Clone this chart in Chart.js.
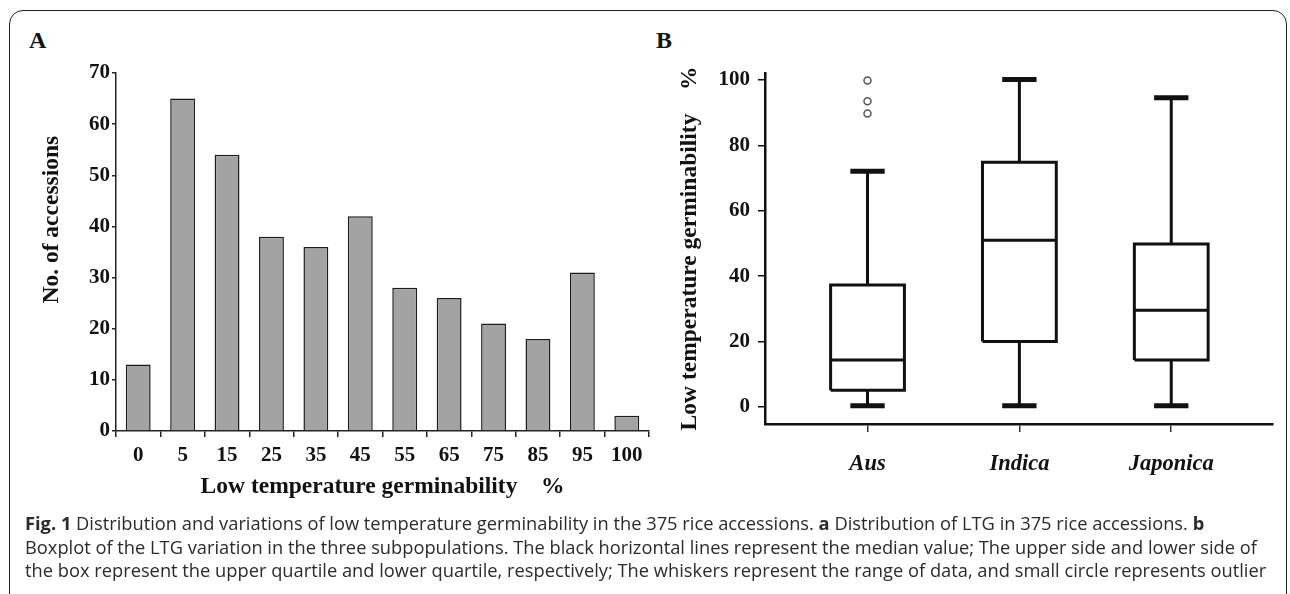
<!DOCTYPE html>
<html lang="en">
<head>
<meta charset="UTF-8">
<title>Low temperature germinability</title>
<script src="https://cdn.jsdelivr.net/npm/chart.js"></script>
<style>
    body {
        margin: 0;
        width: 1290px;
        height: 594px;
        overflow: hidden;
        background: #fff;
        position: relative;
    }
    .frame {
        position: absolute;
        left: 9px;
        top: 10px;
        width: 1278px;
        height: 640px;
        border: 1.5px solid #222;
        border-radius: 14px;
        box-sizing: border-box;
    }
    .panel-label {
        position: absolute;
        top: 27px;
        font: bold 24px 'Liberation Serif', serif;
        color: #111;
    }
    #wrapA { position: absolute; left: 0; top: 0; }
    #wrapB { position: absolute; left: 650px; top: 0; }
    .caption {
        position: absolute;
        left: 25px;
        top: 511px;
        font-family: 'Open Sans', sans-serif;
        font-size: 18.3px;
        line-height: 23.5px;
        color: #2b2b2b;
        white-space: nowrap;
    }
</style>
</head>
<body>
<div class="frame"></div>
<div class="panel-label" style="left:29px">A</div>
<div class="panel-label" style="left:656px">B</div>

<div id="wrapA"><canvas id="chartA" width="660" height="520"></canvas></div>
<div id="wrapB"><canvas id="chartB" width="640" height="520"></canvas></div>

<div class="caption">
    <div><b>Fig. 1</b> Distribution and variations of low temperature germinability in the 375 rice accessions. <b>a</b> Distribution of LTG in 375 rice accessions. <b>b</b></div>
    <div>Boxplot of the LTG variation in the three subpopulations. The black horizontal lines represent the median value; The upper side and lower side of</div>
    <div>the box represent the upper quartile and lower quartile, respectively; The whiskers represent the range of data, and small circle represents outlier</div>
</div>

<script>
    // panel A: histogram
    const ltgBins = ['0', '5', '15', '25', '35', '45', '55', '65', '75', '85', '95', '100'];
    const accessionCounts = [13, 65, 54, 38, 36, 42, 28, 26, 21, 18, 31, 3];
    const countTicks = [0, 10, 20, 30, 40, 50, 60, 70];

    // panel B: boxplot per subpopulation
    const groups = ['Aus', 'Indica', 'Japonica'];
    const whiskerLow = [0.4, 0.4, 0.4];
    const quartile1 = [5.1, 20, 14.4];
    const medians = [14.4, 51, 29.6];
    const quartile3 = [37.3, 74.8, 49.8];
    const whiskerHigh = [72.1, 100.1, 94.5];
    const outliers = [[89.7, 93.5, 99.8], [], []];
    const pctTicks = [0, 20, 40, 60, 80, 100];

    Chart.defaults.font.family = "'Liberation Serif', 'Times New Roman', serif";
    Chart.defaults.font.weight = 'bold';
    Chart.defaults.color = '#111';
    Chart.defaults.animation = false;

    const axisTitle = 'Low temperature germinability    %';

    new Chart(document.getElementById('chartA'), {
        type: 'bar',
        data: {
            labels: ltgBins,
            datasets: [{
                data: accessionCounts,
                backgroundColor: '#a3a3a3',
                borderColor: '#1c1c1c',
                borderWidth: 1.5,
                categoryPercentage: 1,
                barPercentage: 0.56
            }]
        },
        options: {
            responsive: false,
            layout: { padding: { left: 0, top: 73, right: 11, bottom: 0 } },
            plugins: { legend: { display: false }, tooltip: { enabled: false } },
            scales: {
                x: {
                    afterFit: s => { s.height = 89; },
                    grid: { drawOnChartArea: false, tickLength: 6, color: '#222', lineWidth: 1.5 },
                    border: { color: '#222', width: 1.5 },
                    ticks: { font: { size: 21 }, padding: 6, maxRotation: 0 },
                    title: { display: true, text: axisTitle, font: { size: 23.5 }, padding: { bottom: 19 } }
                },
                y: {
                    min: 0,
                    max: 70,
                    afterFit: s => { s.width = 116; },
                    afterBuildTicks: s => { s.ticks = countTicks.map(v => ({ value: v })); },
                    grid: { drawOnChartArea: false, tickLength: 4, color: '#222', lineWidth: 1.5 },
                    border: { color: '#222', width: 1.5 },
                    ticks: { font: { size: 21 }, padding: 2 },
                    // leading spaces lift the title above the axis centre, as in the figure
                    title: { display: true, text: '           No. of accessions', font: { size: 23.5 }, padding: { top: 38 } }
                }
            }
        }
    });

    // build box, median, whisker and cap lines from the arrays
    const boxHalf = 0.243;
    const capHalf = 0.113;
    const boxDatasets = [];
    const lineStyle = { showLine: true, pointRadius: 0, borderColor: '#111', fill: false, borderJoinStyle: 'miter', borderCapStyle: 'butt' };

    groups.forEach((g, i) => {
        boxDatasets.push({ ...lineStyle, borderWidth: 3, data: [
            { x: i - boxHalf, y: quartile1[i] }, { x: i + boxHalf, y: quartile1[i] },
            { x: i + boxHalf, y: quartile3[i] }, { x: i - boxHalf, y: quartile3[i] },
            { x: i - boxHalf, y: quartile1[i] }
        ] });
        boxDatasets.push({ ...lineStyle, borderWidth: 3, data: [
            { x: i - boxHalf, y: medians[i] }, { x: i + boxHalf, y: medians[i] }
        ] });
        boxDatasets.push({ ...lineStyle, borderWidth: 3, data: [
            { x: i, y: quartile3[i] }, { x: i, y: whiskerHigh[i] }
        ] });
        boxDatasets.push({ ...lineStyle, borderWidth: 3, data: [
            { x: i, y: whiskerLow[i] }, { x: i, y: quartile1[i] }
        ] });
        boxDatasets.push({ ...lineStyle, borderWidth: 5, data: [
            { x: i - capHalf, y: whiskerHigh[i] }, { x: i + capHalf, y: whiskerHigh[i] }
        ] });
        boxDatasets.push({ ...lineStyle, borderWidth: 5, data: [
            { x: i - capHalf, y: whiskerLow[i] }, { x: i + capHalf, y: whiskerLow[i] }
        ] });
    });

    boxDatasets.push({
        showLine: false,
        data: outliers.flatMap((vals, i) => vals.map(v => ({ x: i, y: v }))),
        pointRadius: 3.5,
        pointBackgroundColor: '#fff',
        pointBorderColor: '#555',
        pointBorderWidth: 1.5
    });

    new Chart(document.getElementById('chartB'), {
        type: 'scatter',
        data: { datasets: boxDatasets },
        options: {
            responsive: false,
            layout: { padding: { left: 0, top: 73, right: 17, bottom: 0 } },
            plugins: { legend: { display: false }, tooltip: { enabled: false } },
            scales: {
                x: {
                    type: 'linear',
                    min: -0.675,
                    max: 2.67,
                    afterFit: s => { s.height = 96; },
                    afterBuildTicks: s => { s.ticks = groups.map((g, i) => ({ value: i })); },
                    grid: { drawOnChartArea: false, tickLength: 8, color: '#333', lineWidth: 1.5 },
                    border: { color: '#111', width: 2.5 },
                    ticks: {
                        font: { size: 22.5, style: 'italic' },
                        padding: 19,
                        callback: v => groups[v]
                    }
                },
                y: {
                    min: -5.2,
                    max: 102.1,
                    afterFit: s => { s.width = 115; },
                    afterBuildTicks: s => { s.ticks = pctTicks.map(v => ({ value: v })); },
                    grid: { drawOnChartArea: false, tickLength: 7, color: '#111', lineWidth: 1.5 },
                    border: { color: '#111', width: 2.5 },
                    ticks: { font: { size: 21 }, padding: 8 },
                    title: { display: true, text: axisTitle, font: { size: 23.5 }, padding: { top: 26 } }
                }
            }
        }
    });
</script>
</body>
</html>
